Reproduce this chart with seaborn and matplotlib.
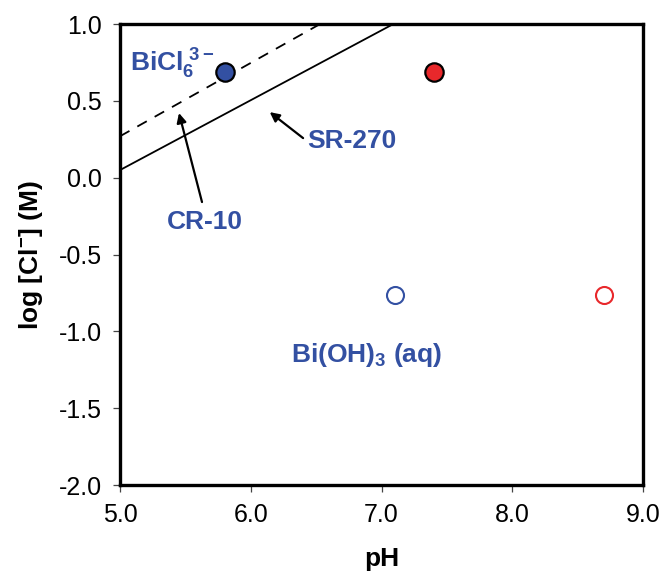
import matplotlib
matplotlib.use("Agg")
import matplotlib.pyplot as plt
import seaborn as sns
import pandas as pd

# Boundary lines between BiCl6(3-) and Bi(OH)3(aq): endpoints (pH, log[Cl-])
sr270_ph = [5.0, 7.09]
sr270_logcl = [0.05, 1.0]
cr10_ph = [5.0, 6.53]
cr10_logcl = [0.27, 1.0]

# Solution conditions
pts_ph = [5.8, 7.4, 7.1, 8.7]
pts_logcl = [0.69, 0.69, -0.76, -0.76]
pts_group = ["blue_filled", "red_filled", "blue_open", "red_open"]

x_ticks = [5.0, 6.0, 7.0, 8.0, 9.0]
y_ticks = [-2.0, -1.5, -1.0, -0.5, 0.0, 0.5, 1.0]

sns.set_theme(style="ticks")
plt.rcParams["font.family"] = ["Liberation Sans", "DejaVu Sans"]
plt.rcParams["mathtext.fontset"] = "custom"
plt.rcParams["mathtext.rm"] = "Liberation Sans:bold"
plt.rcParams["mathtext.it"] = "Liberation Sans:bold"
plt.rcParams["mathtext.bf"] = "Liberation Sans:bold"
plt.rcParams["text.color"] = "black"
plt.rcParams["axes.labelcolor"] = "black"
plt.rcParams["xtick.color"] = "black"
plt.rcParams["ytick.color"] = "black"

BLUE = "#3350A2"
RED = "#E8282B"

fig = plt.figure(figsize=(6.63, 5.86), dpi=100)
ax = fig.add_axes([0.181, 0.172, 0.789, 0.787])

lines = pd.DataFrame({
    "pH": sr270_ph + cr10_ph,
    "logcl": sr270_logcl + cr10_logcl,
    "case": ["SR-270"] * 2 + ["CR-10"] * 2,
})
sns.lineplot(data=lines[lines.case == "SR-270"], x="pH", y="logcl", ax=ax,
             color="black", lw=1.3, estimator=None, sort=False)
sns.lineplot(data=lines[lines.case == "CR-10"], x="pH", y="logcl", ax=ax,
             color="black", lw=1.3, estimator=None, sort=False,
             dashes=False, linestyle=(0, (6, 5)))

pts = pd.DataFrame({"pH": pts_ph, "logcl": pts_logcl, "grp": pts_group})
style = {
    "blue_filled": dict(facecolor=BLUE, edgecolor="black", linewidth=1.6, s=175),
    "red_filled": dict(facecolor=RED, edgecolor="black", linewidth=1.6, s=175),
    "blue_open": dict(facecolor="white", edgecolor=BLUE, linewidth=1.5, s=150),
    "red_open": dict(facecolor="white", edgecolor=RED, linewidth=1.5, s=150),
}
for g, kw in style.items():
    sns.scatterplot(data=pts[pts.grp == g], x="pH", y="logcl", ax=ax,
                    zorder=5, legend=False, **kw)

ax.set_xlim(5.0, 9.0)
ax.set_ylim(-2.0, 1.0)
ax.set_xticks(x_ticks)
ax.set_yticks(y_ticks)
ax.set_xticklabels([f"{v:.1f}" for v in x_ticks])
ax.set_yticklabels([f"{v:.1f}" for v in y_ticks])
ax.tick_params(direction="out", length=5, width=0.9, labelsize=18, pad=8,
               color="#444444", labelcolor="black")
for sp in ax.spines.values():
    sp.set_linewidth(2.4)
    sp.set_color("black")

ax.set_xlabel("pH", fontsize=19, fontweight="bold", labelpad=14)
ax.set_ylabel("log [Cl$^{-}$] (M)", fontsize=19, fontweight="bold", labelpad=10)

tkw = dict(color=BLUE, fontsize=19, fontweight="bold", va="center", ha="left")
ax.text(5.08, 0.74, "BiCl$_{6}^{\\ 3-}$", **tkw)
ax.text(6.43, 0.24, "SR-270", **tkw)
ax.text(5.36, -0.29, "CR-10", **tkw)
ax.text(6.31, -1.15, "Bi(OH)$_{3}$ (aq)", **tkw)

akw = dict(arrowstyle="-|>", color="black", lw=1.6, mutation_scale=14,
           shrinkA=0, shrinkB=0)
ax.annotate("", xy=(6.145, 0.427), xytext=(6.40, 0.258), arrowprops=akw)
ax.annotate("", xy=(5.451, 0.421), xytext=(5.627, -0.158), arrowprops=akw)

fig.savefig("out.png", dpi=100)
